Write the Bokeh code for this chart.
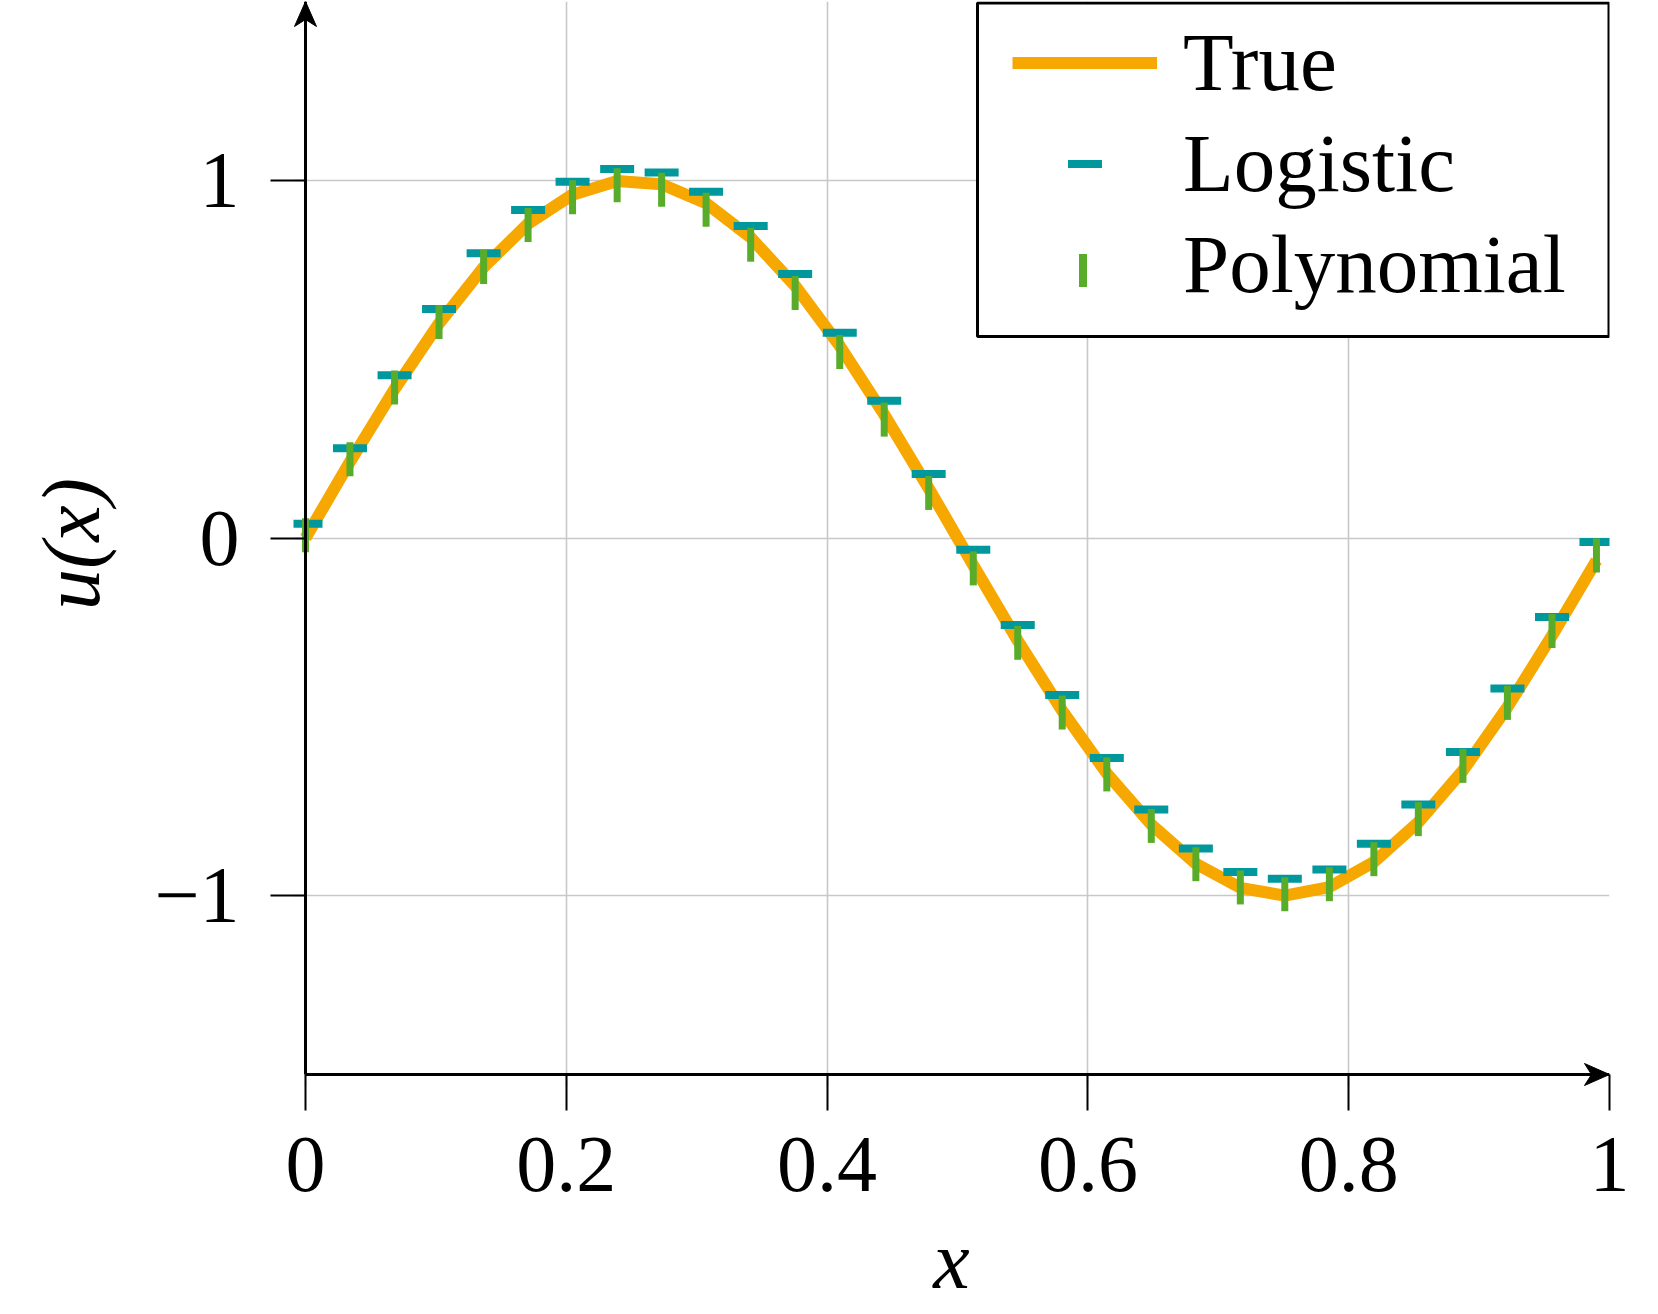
import math
from bokeh.plotting import figure
from bokeh.models import (Range1d, FixedTicker, Arrow, Legend, LegendItem,
                          ColumnDataSource)
from bokeh.embed import file_html
from bokeh.resources import INLINE

# ---- data ----
x_vals = [0.0, 0.0341, 0.0683, 0.1024, 0.1366, 0.1707, 0.2048, 0.2390, 0.2731, 0.3072,
          0.3414, 0.3755, 0.4097, 0.4438, 0.4779, 0.5121, 0.5462, 0.5803, 0.6145, 0.6486,
          0.6828, 0.7169, 0.7510, 0.7852, 0.8193, 0.8534, 0.8876, 0.9217, 0.9559, 0.9900]
true_vals = [0.000, 0.213, 0.416, 0.600, 0.757, 0.879, 0.960, 0.998, 0.989, 0.936,
             0.840, 0.705, 0.537, 0.345, 0.139, -0.076, -0.287, -0.483, -0.658, -0.801,
             -0.911, -0.978, -1.000, -0.976, -0.906, -0.795, -0.650, -0.473, -0.273, -0.063]
logistic_vals = [0.040, 0.251, 0.455, 0.640, 0.796, 0.917, 0.996, 1.032, 1.022, 0.968,
                 0.872, 0.738, 0.574, 0.384, 0.179, -0.033, -0.243, -0.439, -0.615, -0.759,
                 -0.868, -0.934, -0.953, -0.927, -0.855, -0.745, -0.598, -0.421, -0.221, -0.011]
poly_vals = [0.008, 0.220, 0.421, 0.604, 0.758, 0.875, 0.953, 0.986, 0.974, 0.918,
             0.820, 0.685, 0.520, 0.331, 0.126, -0.085, -0.293, -0.488, -0.661, -0.805,
             -0.912, -0.977, -0.996, -0.968, -0.898, -0.786, -0.637, -0.461, -0.260, -0.049]

x_ticks = [0, 0.2, 0.4, 0.6, 0.8, 1]
x_tick_labels = ["0", "0.2", "0.4", "0.6", "0.8", "1"]
y_ticks = [-1, 0, 1]
y_tick_labels = ["\u22121", "0", "1"]
x_min, x_max = 0.0, 1.0
y_min, y_max = -1.5, 1.5

series_labels = ["True", "Logistic", "Polynomial"]

# ---- style / geometry ----
ORANGE = "#f6a800"
TEAL = "#00989c"
GREEN = "#59ac2a"
FONT = "Liberation Serif"

PX_X = 1304.0      # pixels per x unit
PX_Y = 357.7       # pixels per y unit
PAD = 12           # room for the arrow heads beside the axes
LEFT, TOP = 293, 1

x_lo = x_min - PAD / PX_X
y_lo = y_min - PAD / PX_Y
FW = int(round((x_max - x_lo) * PX_X))
FH = int(round((y_max - y_lo) * PX_Y))


def px_to_x(px):
    return x_lo + (px - LEFT) / PX_X


def py_to_y(py):
    return y_max - (py - TOP) / PX_Y


src = ColumnDataSource(dict(x=x_vals, t=true_vals, l=logistic_vals, q=poly_vals))

p = figure(frame_width=FW, frame_height=FH,
           min_border_left=LEFT, min_border_right=40,
           min_border_top=TOP, min_border_bottom=226,
           x_range=Range1d(x_lo, x_max), y_range=Range1d(y_lo, y_max),
           output_backend="svg", toolbar_location=None, tools="")
p.outline_line_color = None
p.background_fill_color = "white"
p.border_fill_color = "white"

# grid
for g, t in ((p.xgrid, x_ticks), (p.ygrid, y_ticks)):
    g.ticker = FixedTicker(ticks=t)
    g.grid_line_color = "#c8c8c8"
    g.grid_line_width = 1.6

# axes (lines drawn separately; ticks reach in to those lines)
for ax in (p.xaxis, p.yaxis):
    ax.axis_line_color = None
    ax.major_tick_line_color = "black"
    ax.major_tick_line_width = 2
    ax.major_tick_in = PAD
    ax.minor_tick_line_color = None
    ax.major_label_text_font = FONT
    ax.major_label_text_font_size = "80px"
    ax.major_label_text_color = "black"
    ax.axis_label_text_font = FONT
    ax.axis_label_text_font_size = "82px"
    ax.axis_label_text_font_style = "italic"
    ax.axis_label_text_color = "black"

p.xaxis.ticker = FixedTicker(ticks=x_ticks)
p.xaxis.major_label_overrides = {t: s for t, s in zip(x_ticks, x_tick_labels)}
p.xaxis.major_tick_out = 24
p.xaxis.major_label_standoff = 27
p.xaxis.axis_label = "x"
p.xaxis.axis_label_standoff = 21

p.yaxis.ticker = FixedTicker(ticks=y_ticks)
p.yaxis.major_label_overrides = {t: s for t, s in zip(y_ticks, y_tick_labels)}
p.yaxis.major_tick_out = 23
p.yaxis.major_label_standoff = 31
p.yaxis.axis_label = "u(x)"
p.yaxis.axis_label_standoff = 34

# axis lines
p.add_layout(Arrow(x_start=x_min, y_start=y_min, x_end=x_min, y_end=y_max, end=None,
                   line_color="black", line_width=3))
p.add_layout(Arrow(x_start=x_min, y_start=y_min, x_end=x_max, y_end=y_min, end=None,
                   line_color="black", line_width=3))

# arrow heads (stealth shape, sized in pixels)
HL, HW, HN = 25, 22, 7
head_up = [(0, 0), (-HW / 2, HL), (0, HL - HN), (HW / 2, HL)]      # (dx right, dy down)
head_right = [(0, 0), (-HL, HW / 2), (-(HL - HN), 0), (-HL, -HW / 2)]  # (dx right, dy up)
p.patches(xs=[[x_min + dx / PX_X for dx, dy in head_up],
              [x_max + dx / PX_X for dx, dy in head_right]],
          ys=[[y_max - dy / PX_Y for dx, dy in head_up],
              [y_min + dy / PX_Y for dx, dy in head_right]],
          fill_color="black", line_color="black", line_width=1)

# data
r_true = p.line("x", "t", source=src, line_color=ORANGE, line_width=12, line_join="round")
r_log = p.scatter("x", "l", source=src, marker="dash", size=34, line_width=8,
                  line_color=TEAL, fill_color=None)
r_poly = p.scatter("x", "q", source=src, marker="dash", size=34, angle=math.pi / 2,
                   line_width=7, line_color=GREEN, fill_color=None)
# invisible stand-in so the legend swatch can be drawn as a vertical bar
r_poly_key = p.scatter("x", "q", source=src, marker="dash", size=34,
                       line_alpha=0, fill_alpha=0)

# legend frame (pixels) and the vertical "Polynomial" swatch, drawn beneath the legend text
LB_L, LB_R, LB_T, LB_B = 977, 1608.5, 2.5, 336
p.quad(left=[px_to_x(LB_L)], right=[px_to_x(LB_R)], top=[py_to_y(LB_T)], bottom=[py_to_y(LB_B)],
       fill_color="white", line_color="black", line_width=3)
KEY_X, KEY_Y, KEY_W, KEY_H = 1082.5, 270, 8, 33
p.quad(left=[px_to_x(KEY_X - KEY_W / 2)], right=[px_to_x(KEY_X + KEY_W / 2)],
       top=[py_to_y(KEY_Y - KEY_H / 2)], bottom=[py_to_y(KEY_Y + KEY_H / 2)],
       fill_color=GREEN, line_color=None)

L_PAD, L_SPACING, L_GLYPH_W, L_STANDOFF, L_LABEL_W = 13, 5, 145, 26, 413
legend = Legend(items=[LegendItem(label=series_labels[0], renderers=[r_true]),
                       LegendItem(label=series_labels[1], renderers=[r_log]),
                       LegendItem(label=series_labels[2], renderers=[r_poly_key])],
                location="top_right", margin=0, padding=L_PAD, spacing=L_SPACING,
                glyph_width=L_GLYPH_W, glyph_height=85, label_standoff=L_STANDOFF,
                label_width=L_LABEL_W,
                label_text_font=FONT, label_text_font_size="83px",
                label_text_color="black",
                border_line_alpha=0, background_fill_alpha=0)
p.add_layout(legend)

open("out.html", "w").write(file_html(p, INLINE))
